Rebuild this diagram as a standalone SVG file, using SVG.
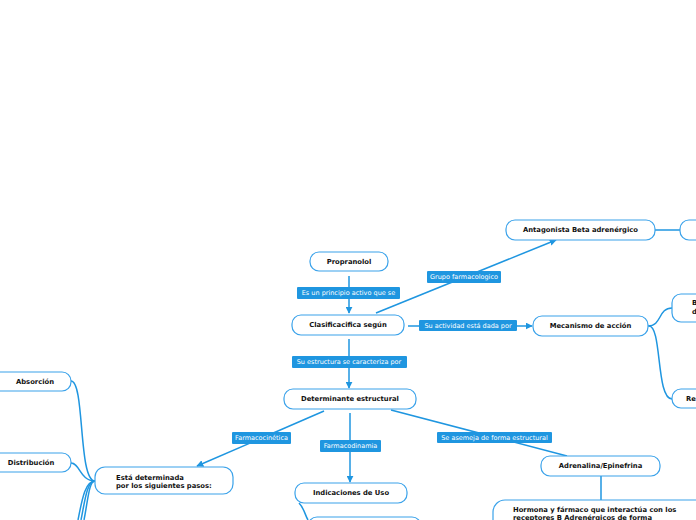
<svg xmlns="http://www.w3.org/2000/svg" width="696" height="520" viewBox="0 0 696 520">
<defs>
<marker id="arr" viewBox="0 0 10 10" refX="9" refY="5" markerWidth="7" markerHeight="7" markerUnits="userSpaceOnUse" orient="auto">
<path d="M0,0 L10,5 L0,10 z" fill="#1f96e0"/>
</marker>
<style>
.n{fill:#fff;stroke:#3aa2ea;stroke-width:1.2}
.t{font-family:"DejaVu Sans",Verdana,sans-serif;font-weight:bold;font-size:6.8px;fill:#111;text-anchor:middle;dominant-baseline:central}
.tl{font-family:"DejaVu Sans",Verdana,sans-serif;font-weight:bold;font-size:6.8px;fill:#111}
.c{fill:none;stroke:#1f96e0;stroke-width:1.5}
.lb{fill:#1f96e0}
.lt{font-family:"DejaVu Sans",Verdana,sans-serif;font-size:6.5px;fill:#fff;text-anchor:middle;dominant-baseline:central}
</style>
</defs>
<rect width="696" height="520" fill="#fff"/>
<g id="connectors">
<path class="c" d="M349,276 L349,313" marker-end="url(#arr)"/>
<path class="c" d="M376,313 L556,240" marker-end="url(#arr)"/>
<path class="c" d="M408,326 L532,326" marker-end="url(#arr)"/>
<path class="c" d="M349,339 L349,388" marker-end="url(#arr)"/>
<path class="c" d="M324,411 L197,466" marker-end="url(#arr)"/>
<path class="c" d="M350,413 L350,482" marker-end="url(#arr)"/>
<path class="c" d="M391,410 L567,456"/>
<path class="c" d="M655,230 L680,230"/>
<path class="c" d="M648,326 C662,326 658,308 672,308"/>
<path class="c" d="M649,326 C662,326 656,399 672,399"/>
<path class="c" d="M601,476 L601,500"/>
<path class="c" d="M95,481 C78,481 85,381 71,381"/>
<path class="c" d="M95,481 C80,481 80,463 71,463"/>
<path class="c" d="M95,481 C85,481 82,500 78,520"/>
<path class="c" d="M95,481 C87,481 85,500 81,520"/>
<path class="c" d="M95,481 C89,481 88,500 84,520"/>
<path class="c" d="M299,503 C304,508 305,515 308,520"/>
</g>
<g id="labels">
<rect class="lb" x="297" y="287" width="103" height="12" rx="1"/>
<text class="lt" x="348.5" y="293">Es un principio activo que se</text>
<rect class="lb" x="427" y="271" width="74" height="12" rx="1"/>
<text class="lt" x="464" y="277">Grupo farmacologico</text>
<rect class="lb" x="419" y="320" width="98" height="11" rx="1"/>
<text class="lt" x="468" y="325.5">Su actividad está dada por</text>
<rect class="lb" x="292" y="356" width="115" height="12" rx="1"/>
<text class="lt" x="349" y="362">Su estructura se caracteriza por</text>
<rect class="lb" x="232" y="432" width="59" height="12" rx="1"/>
<text class="lt" x="261.5" y="438">Farmacocinética</text>
<rect class="lb" x="320" y="440" width="61" height="12" rx="1"/>
<text class="lt" x="350.5" y="446">Farmacodinamia</text>
<rect class="lb" x="437" y="432" width="115" height="11" rx="1"/>
<text class="lt" x="494.5" y="437.5">Se asemeja de forma estructural</text>
</g>
<g id="propranolol"><rect class="n" x="310" y="252" width="78" height="19" rx="9"/><text class="t" x="349" y="261.5">Propranolol</text></g>
<g id="clasificacifica"><rect class="n" x="292" y="315" width="112" height="20" rx="9"/><text class="t" x="348" y="325">Clasificacifica según</text></g>
<g id="antagonista"><rect class="n" x="506" y="220" width="149" height="20" rx="9"/><text class="t" x="580.5" y="230">Antagonista Beta adrenérgico</text></g>
<g id="right1"><rect class="n" x="680" y="220" width="40" height="20" rx="9"/></g>
<g id="mecanismo"><rect class="n" x="533" y="316" width="115" height="20" rx="9"/><text class="t" x="590.5" y="326">Mecanismo de acción</text></g>
<g id="right2"><rect class="n" x="672" y="294" width="40" height="28" rx="9"/><text class="tl" x="692" y="305">B</text><text class="tl" x="692" y="314">d</text></g>
<g id="right3"><rect class="n" x="672" y="389" width="40" height="19" rx="9"/><text class="tl" x="686" y="401">Re</text></g>
<g id="determinante"><rect class="n" x="284" y="389" width="132" height="20" rx="9"/><text class="t" x="350" y="399">Determinante estructural</text></g>
<g id="esta"><rect class="n" x="95" y="467" width="138" height="27" rx="10"/><text class="tl" x="116" y="480">Está determinada</text><text class="tl" x="116" y="488">por los siguientes pasos:</text></g>
<g id="absorcion"><rect class="n" x="-10" y="372" width="81" height="19" rx="9"/><text class="t" x="35" y="381.5">Absorción</text></g>
<g id="distribucion"><rect class="n" x="-10" y="453" width="81" height="19" rx="9"/><text class="t" x="31" y="462.5">Distribución</text></g>
<g id="indicaciones"><rect class="n" x="295" y="483" width="112" height="20" rx="9"/><text class="t" x="351" y="493">Indicaciones de Uso</text></g>
<g id="below"><rect class="n" x="308" y="517" width="113" height="20" rx="9"/></g>
<g id="adrenalina"><rect class="n" x="541" y="456" width="119" height="20" rx="9"/><text class="t" x="600.5" y="466">Adrenalina/Epinefrina</text></g>
<g id="hormona"><rect class="n" x="493" y="500" width="220" height="40" rx="12"/><text class="tl" x="513" y="512">Hormona y fármaco que interactúa con los</text><text class="tl" x="513" y="520">receptores B Adrenérgicos de forma</text></g>
</svg>
